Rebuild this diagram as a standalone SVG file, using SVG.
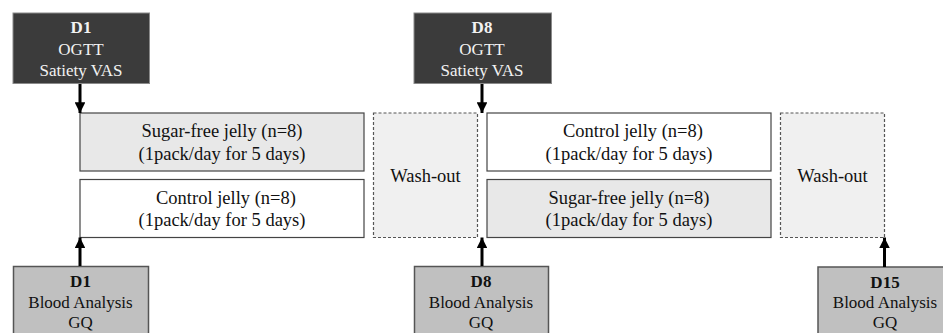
<svg xmlns="http://www.w3.org/2000/svg" width="943" height="333" viewBox="0 0 943 333">
<style>
text{font-family:'Liberation Serif','Times New Roman',Times,'DejaVu Serif',serif;text-anchor:middle}
.hd{fill:#3b3b3b;stroke:#8a8a8a;stroke-width:1}
.hdt{fill:#f2f2f2;font-size:17px}
.bt{fill:#c0c0c0;stroke:#555;stroke-width:1.5}
.btt{fill:#111;font-size:17px}
.b{font-weight:bold}
.sf{fill:#e8e8e8;stroke:#444;stroke-width:1.2}
.cj{fill:#fff;stroke:#444;stroke-width:1.2}
.jt{fill:#111;font-size:18.5px}
.wo{fill:#f0f0f0;stroke:#555;stroke-width:1.2;stroke-dasharray:3,2}
.ar{stroke:#000;stroke-width:3;fill:none;marker-end:url(#ah)}
</style>
<defs>
<marker id="ah" viewBox="0 0 10 10" refX="10" refY="5" markerWidth="3.6" markerHeight="3.6" orient="auto" markerUnits="strokeWidth">
<path d="M0,0 L10,5 L0,10 z" fill="#000"/>
</marker>
</defs>
<g font-family="Liberation Serif, Times New Roman, serif">
<g id="d1-top">
<rect class="hd" x="13" y="13" width="136.5" height="70.5"/>
<text class="hdt b" x="81" y="33">D1</text>
<text class="hdt" x="81" y="55">OGTT</text>
<text class="hdt" x="81" y="75.5">Satiety VAS</text>
</g>
<g id="d8-top">
<rect class="hd" x="414" y="13" width="137.5" height="70.5"/>
<text class="hdt b" x="482" y="33">D8</text>
<text class="hdt" x="482" y="55">OGTT</text>
<text class="hdt" x="482" y="75.5">Satiety VAS</text>
</g>
<g id="sf1">
<rect class="sf" x="80" y="113" width="284" height="58"/>
<text class="jt" x="222" y="137">Sugar-free jelly (n=8)</text>
<text class="jt" x="222" y="159.5">(1pack/day for 5 days)</text>
</g>
<g id="cj1">
<rect class="cj" x="80" y="179.5" width="284" height="58"/>
<text class="jt" x="226" y="203.5">Control jelly (n=8)</text>
<text class="jt" x="222" y="226">(1pack/day for 5 days)</text>
</g>
<g id="wo1">
<rect class="wo" x="373.5" y="113" width="104" height="124.5"/>
<text class="jt" x="425.5" y="181.5">Wash-out</text>
</g>
<g id="cj2">
<rect class="cj" x="487" y="113" width="284" height="58"/>
<text class="jt" x="633" y="137">Control jelly (n=8)</text>
<text class="jt" x="629" y="159.5">(1pack/day for 5 days)</text>
</g>
<g id="sf2">
<rect class="sf" x="487" y="179.5" width="284" height="58"/>
<text class="jt" x="629" y="203.5">Sugar-free jelly (n=8)</text>
<text class="jt" x="629" y="226">(1pack/day for 5 days)</text>
</g>
<g id="wo2">
<rect class="wo" x="780.5" y="113" width="104" height="124.5"/>
<text class="jt" x="832.5" y="181.5">Wash-out</text>
</g>
<g id="d1-bot">
<rect class="bt" x="13.5" y="266.5" width="135" height="70"/>
<text class="btt b" x="80.5" y="287">D1</text>
<text class="btt" x="80.5" y="307.5">Blood Analysis</text>
<text class="btt" x="80.5" y="327.5">GQ</text>
</g>
<g id="d8-bot">
<rect class="bt" x="414.5" y="266.5" width="134" height="70"/>
<text class="btt b" x="481" y="287">D8</text>
<text class="btt" x="481" y="307.5">Blood Analysis</text>
<text class="btt" x="481" y="327.5">GQ</text>
</g>
<g id="d15-bot">
<rect class="bt" x="818" y="267" width="134" height="70"/>
<text class="btt b" x="885" y="287.5">D15</text>
<text class="btt" x="885" y="308">Blood Analysis</text>
<text class="btt" x="885" y="328">GQ</text>
</g>
</g>
<g id="connectors">
<line class="ar" x1="80" y1="84" x2="80" y2="113"/>
<line class="ar" x1="482" y1="84" x2="482" y2="113"/>
<line class="ar" x1="80" y1="266" x2="80" y2="237.5"/>
<line class="ar" x1="482" y1="266" x2="482" y2="237.5"/>
<line class="ar" x1="884.5" y1="267" x2="884.5" y2="237.5"/>
</g>
</svg>
